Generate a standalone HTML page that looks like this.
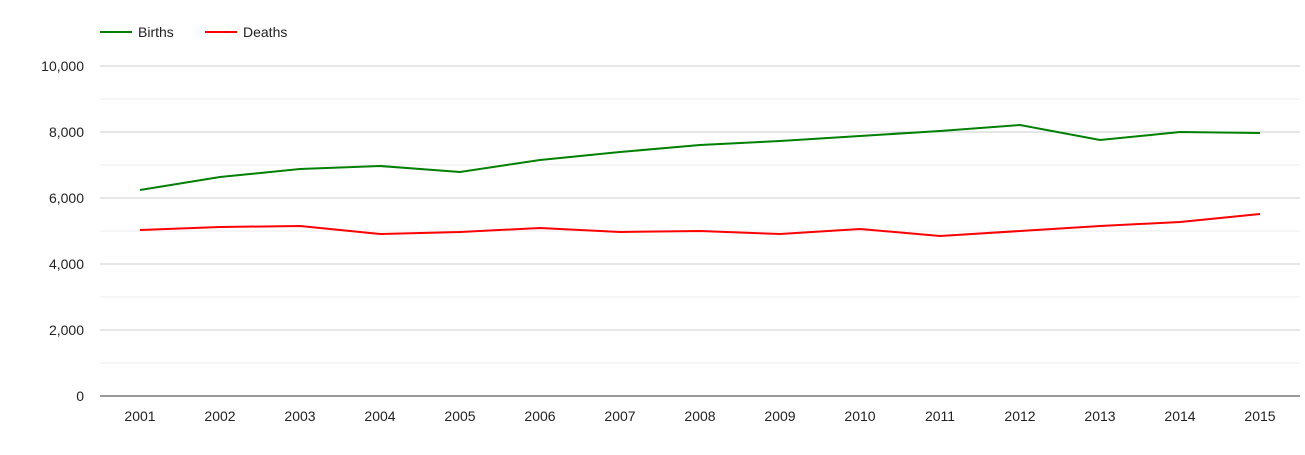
<!DOCTYPE html>
<html><head><meta charset="utf-8">
<style>
body{margin:0;background:#fff;font-family:"Liberation Sans",Arial,sans-serif;}
svg text{font-family:"Liberation Sans",Arial,sans-serif;font-size:14px;fill:#222;}
</style></head>
<body>
<svg id="chart" width="1305" height="450" xmlns="http://www.w3.org/2000/svg"></svg>
<script>
const years=["2001","2002","2003","2004","2005","2006","2007","2008","2009","2010","2011","2012","2013","2014","2015"];
const births=[6242,6636,6879,6970,6788,7152,7394,7606,7727,7879,8030,8212,7758,8000,7970];
const deaths=[5030,5121,5152,4909,4970,5091,4970,5000,4909,5060,4848,5000,5152,5273,5515];
const yTicks=[0,2000,4000,6000,8000,10000];
const yTickLabels=["0","2,000","4,000","6,000","8,000","10,000"];
const NS="http://www.w3.org/2000/svg";
const svg=document.getElementById('chart');
const L=100,R=1300,T=66,B=396,yMax=10000;
const y=v=>B-(v/yMax)*(B-T);
const bw=(R-L)/years.length;
const x=i=>L+bw*(i+0.5);
function mk(t,a){const e=document.createElementNS(NS,t);for(const k in a)e.setAttribute(k,a[k]);svg.appendChild(e);return e;}
for(let i=0;i<yTicks.length-1;i++){
  const mid=(yTicks[i]+yTicks[i+1])/2;
  const g=mk('line',{x1:L,x2:R,y1:y(mid),y2:y(mid),stroke:'#ebebeb'});
  
  
}
yTicks.forEach((v,i)=>{
  if(v>0){const g=mk('line',{x1:L,x2:R,y1:y(v),y2:y(v),stroke:'#cccccc'});
  
  }
  const t=mk('text',{x:L-16,y:y(v)+5,'text-anchor':'end'});t.textContent=yTickLabels[i];
  
  
});
const ax=mk('line',{x1:L,x2:R,y1:B,y2:B,stroke:'#333'});


years.forEach((yr,i)=>{
  const t=mk('text',{x:x(i),y:B+25,'text-anchor':'middle'});t.textContent=yr;
  
  
});
function series(vals,color,name){
  const p=mk('path',{d:vals.map((v,i)=>(i?'L':'M')+x(i)+','+y(v)).join(''),fill:'none',stroke:color,'stroke-width':2});
  
  
}
series(deaths,'#ff0000','deaths-line');
series(births,'#008000','births-line');
function legend(lx,color,label,name){
  const l=mk('line',{x1:lx,x2:lx+32,y1:32,y2:32,stroke:color,'stroke-width':2});
  
  
  const t=mk('text',{x:lx+38,y:37});t.textContent=label;
  
  
}
legend(100,'#008000','Births','legend-births');
legend(205,'#ff0000','Deaths','legend-deaths');
</script>
</body></html>
